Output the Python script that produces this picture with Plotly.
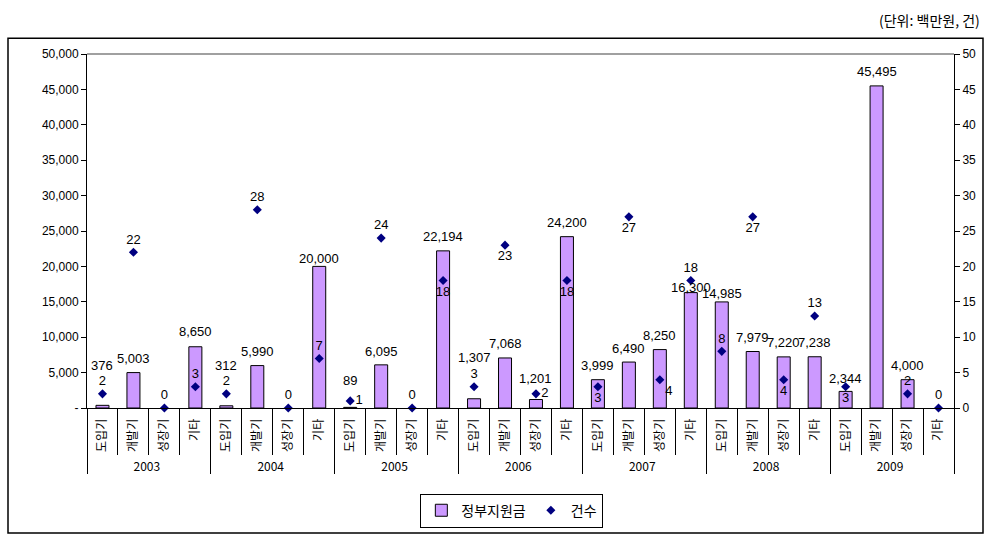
import plotly.graph_objects as go

years = ["2003"] * 4 + ["2004"] * 4 + ["2005"] * 4 + ["2006"] * 4 + ["2007"] * 4 + ["2008"] * 4 + ["2009"] * 4
stages = ["도입기", "개발기", "성장기", "기타"] * 7

funding = [376, 5003, None, 8650,
           312, 5990, None, 20000,
           89, 6095, None, 22194,
           1307, 7068, 1201, 24200,
           3999, 6490, 8250, 16300,
           14985, 7979, 7220, 7238,
           2344, 45495, 4000, None]

counts = [2, 22, 0, 3,
          2, 28, 0, 7,
          1, 24, 0, 18,
          3, 23, 2, 18,
          3, 27, 4, 18,
          8, 27, 4, 13,
          3, None, 2, 0]

left_ticks = [0, 5000, 10000, 15000, 20000, 25000, 30000, 35000, 40000, 45000, 50000]
left_ticktext = ["-"] + [f"{v:,}" for v in left_ticks[1:]]
right_ticks = [0, 5, 10, 15, 20, 25, 30, 35, 40, 45, 50]

# label placement (style only)
count_pos = ["top center", "top center", "top center", "top center",
             "top center", "top center", "top center", "top center",
             "middle right", "top center", "top center", "bottom center",
             "top center", "bottom center", "middle right", "bottom center",
             "bottom center", "bottom center", "bottom right", "top center",
             "top center", "bottom center", "bottom center", "top center",
             "bottom center", "top center", "top center", "top center"]
bar_label_shift = [40, 14, 0, 15,
                   40, 14, 0, 8,
                   27, 13, 0, 14,
                   41, 14, 21, 14,
                   14, 14, 14, 5,
                   8, 14, 14, 14,
                   13, 14, 14, 0]

FONT = "Liberation Sans, Noto Sans CJK KR, sans-serif"

fig = go.Figure()
fig.add_trace(go.Bar(
    x=[years, stages], y=funding, name="정부지원금",
    marker=dict(color="#CC99FF", line=dict(color="black", width=1)),
))
fig.add_trace(go.Scatter(
    x=[years, stages], y=counts, name="건수", yaxis="y2",
    mode="markers+text",
    marker=dict(symbol="diamond", color="#000080", size=7),
    text=[str(v) if v is not None else "" for v in counts],
    textposition=count_pos, cliponaxis=False,
    textfont=dict(size=13, color="black", family=FONT),
))

for i, v in enumerate(funding):
    if v is None:
        continue
    fig.add_annotation(x=i, y=v, xref="x", yref="y", text=f"{v:,}",
                       showarrow=False, yanchor="middle", xanchor="center",
                       yshift=bar_label_shift[i],
                       font=dict(size=13, color="black", family=FONT))

fig.update_layout(
    width=988, height=540,
    margin=dict(l=87, r=34, t=54, b=129),
    paper_bgcolor="white", plot_bgcolor="white",
    font=dict(family=FONT, size=12, color="black"),
    bargap=0.58,
    showlegend=True,
    legend=dict(orientation="h", x=0.49, y=-0.29, xanchor="center", yanchor="middle",
                bordercolor="black", borderwidth=1, font=dict(size=14, family="Noto Sans CJK KR"),
                itemwidth=30, tracegroupgap=0),
    xaxis=dict(type="multicategory", range=[-0.5, 27.5], autorange=False,
               showline=True, linecolor="black", linewidth=1,
               ticks="outside", tickson="boundaries", ticklen=46, tickcolor="black",
               tickangle=-90, ticklabelstandoff=5,
               showgrid=False, showdividers=True, dividercolor="black",
               dividerwidth=1, tickfont=dict(size=12, family="Noto Sans CJK KR")),
    yaxis=dict(range=[0, 50000], tickvals=left_ticks, ticktext=left_ticktext,
               showline=True, linecolor="black", ticks="outside", ticklen=5,
               tickcolor="black", showgrid=False, zeroline=False),
    yaxis2=dict(range=[0, 50], tickvals=right_ticks, overlaying="y", side="right",
                showline=True, linecolor="black", ticks="outside", ticklen=5,
                tickcolor="black", showgrid=False, zeroline=False),
)

fig.add_shape(type="line", xref="paper", yref="paper", x0=0, x1=1, y0=1, y1=1,
              line=dict(color="#808080", width=1.5))
fig.add_shape(type="rect", xref="paper", yref="paper",
              x0=-79 / 867, x1=(983 - 87) / 867, y0=(411 - 537) / 357, y1=(411 - 38) / 357,
              line=dict(color="black", width=1.5))
fig.add_annotation(text="(단위: 백만원, 건)", xref="paper", yref="paper",
                   x=(982 - 87) / 867, y=(411 - 20) / 357, xanchor="right", yanchor="middle",
                   showarrow=False, font=dict(size=14, family="Noto Sans CJK KR"))

fig.write_html("out.html")
